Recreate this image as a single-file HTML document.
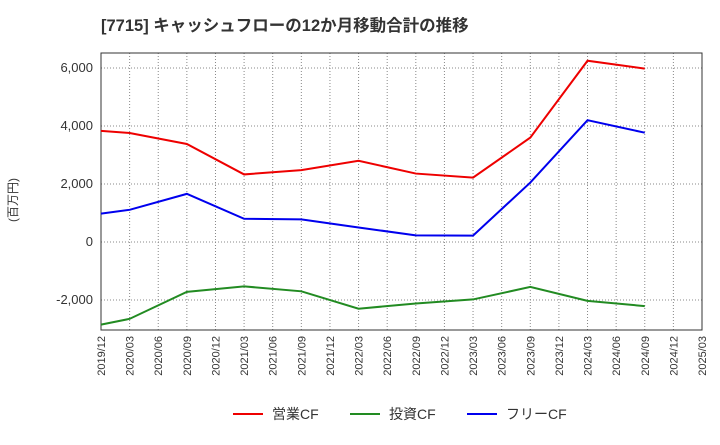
<!DOCTYPE html>
<html><head><meta charset="utf-8"><style>
body{margin:0;background:#fff;font-family:"Liberation Sans","Noto Sans CJK JP",sans-serif;}
</style></head><body>
<svg id="chart" width="720" height="440" xmlns="http://www.w3.org/2000/svg">
<text x="101" y="31" font-size="16.5" font-weight="bold" fill="#333" font-family="Liberation Sans,Noto Sans CJK JP,sans-serif">[7715]  キャッシュフローの12か月移動合計の推移</text>
<text transform="translate(17,200) rotate(-90)" font-size="12" fill="#333" text-anchor="middle" font-family="Liberation Sans,Noto Sans CJK JP,sans-serif">(百万円)</text>
<g id="grid"></g><g id="axes"></g><g id="series"></g>
<g font-size="14" fill="#333" font-family="Liberation Sans,Noto Sans CJK JP,sans-serif">
<line x1="233" y1="414" x2="263" y2="414" stroke="#e00" stroke-width="2"/><text x="272" y="419">営業CF</text>
<line x1="350" y1="414" x2="380" y2="414" stroke="#228b22" stroke-width="2"/><text x="389" y="419">投資CF</text>
<line x1="467" y1="414" x2="497" y2="414" stroke="#00e" stroke-width="2"/><text x="506" y="419">フリーCF</text>
</g>
</svg>
<script>
const xLabels=["2019/12","2020/03","2020/06","2020/09","2020/12","2021/03","2021/06","2021/09","2021/12","2022/03","2022/06","2022/09","2022/12","2023/03","2023/06","2023/09","2023/12","2024/03","2024/06","2024/09","2024/12","2025/03"];
const yTicks=[-2000,0,2000,4000,6000];
const pointIdx=[0,1,3,5,7,9,11,13,15,17,19];
const operatingCF=[3830,3760,3380,2330,2480,2800,2360,2220,3600,6250,5980];
const investingCF=[-2850,-2650,-1720,-1530,-1700,-2300,-2120,-1980,-1550,-2030,-2210];
const freeCF=[980,1110,1660,800,780,500,230,220,2050,4200,3770];
const L=101,R=702,T=53,B=330;
const NS="http://www.w3.org/2000/svg";
const xs=i=>L+(R-L)*i/(xLabels.length-1);
const ys=v=>242-v*58/2000;
function mk(tag,attrs,parent){const e=document.createElementNS(NS,tag);for(const k in attrs)e.setAttribute(k,attrs[k]);parent.appendChild(e);return e;}
const grid=document.getElementById('grid'),axes=document.getElementById('axes'),ser=document.getElementById('series');
xLabels.forEach((lab,i)=>{const x=xs(i);
const g=mk('line',{x1:x,x2:x,y1:T,y2:B,stroke:'#888','stroke-dasharray':'1,2'},grid);

const t=mk('text',{transform:`translate(${x+4},${B+6}) rotate(-90)`,'font-size':'11',fill:'#333','text-anchor':'end'},axes);
t.textContent=lab;});
yTicks.forEach(v=>{const y=ys(v);
const g=mk('line',{x1:L,x2:R,y1:y,y2:y,stroke:'#888','stroke-dasharray':'1,2'},grid);

const t=mk('text',{x:L-8,y:y+4,'font-size':'13',fill:'#333','text-anchor':'end'},axes);
t.textContent=v.toLocaleString('en-US');});
const fr=mk('rect',{x:L,y:T,width:R-L,height:B-T,fill:'none',stroke:'#333'},axes);

[[operatingCF,'#e00','operating-cf-line'],[investingCF,'#228b22','investing-cf-line'],[freeCF,'#00e','free-cf-line']].forEach(([d,c,n])=>{
const p=mk('polyline',{points:d.map((v,i)=>xs(pointIdx[i])+','+ys(v)).join(' '),fill:'none',stroke:c,'stroke-width':'2'},ser);
});
</script>
</body></html>
